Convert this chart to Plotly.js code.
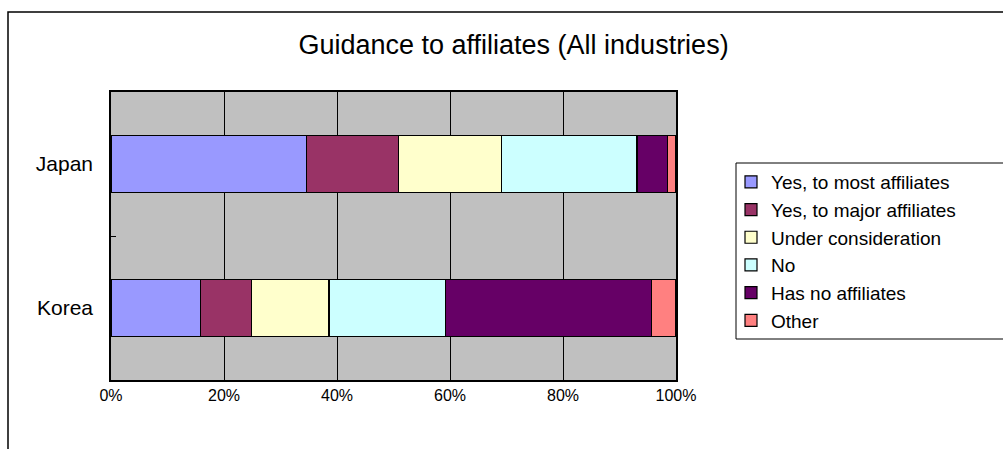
<!DOCTYPE html>
<html>
<head>
<meta charset="utf-8">
<script src="https://cdn.plot.ly/plotly-3.0.1.min.js"></script>
<style>
  body { margin: 0; overflow: hidden; background: #fff; }
  #plotDiv { width: 1003px; height: 449px; }
</style>
</head>
<body>
<div id="plotDiv"></div>
<script>
var countries = ['Japan', 'Korea'];

var yesMost = [34.6, 15.8];
var yesMajor = [16.3, 9.0];
var underConsideration = [18.2, 13.8];
var no = [24.0, 20.6];
var noAffiliates = [5.4, 36.5];
var other = [1.5, 4.3];

var seriesNames = ['Yes, to most affiliates', 'Yes, to major affiliates', 'Under consideration',
                   'No', 'Has no affiliates', 'Other'];
var seriesValues = [yesMost, yesMajor, underConsideration, no, noAffiliates, other];
var seriesColors = ['#9999FF', '#993366', '#FFFFCC', '#CCFFFF', '#660066', '#FF8080'];

var xTicks = [0, 20, 40, 60, 80, 100];

var plotData = [];
for (var i = 0; i < seriesNames.length; i++) {
  plotData.push({
    type: 'bar',
    orientation: 'h',
    name: seriesNames[i],
    y: countries,
    x: seriesValues[i],
    marker: {color: seriesColors[i], line: {color: '#000000', width: 1.2}},
    hoverinfo: 'name+x'
  });
}

var font = 'Liberation Sans, Arial, sans-serif';

// plot area is 565 x 288 px, starting at (111, 92)
function px(x) { return (x - 111) / 565; }
function py(y) { return (380 - y) / 288; }

var layout = {
  width: 1003,
  height: 449,
  barmode: 'stack',
  bargap: 0.6,
  paper_bgcolor: '#ffffff',
  plot_bgcolor: '#C0C0C0',
  margin: {l: 111, r: 327, t: 92, b: 69, autoexpand: false},
  font: {family: font, color: '#000000', size: 16},
  title: {
    text: 'Guidance to affiliates (All industries)',
    font: {family: font, size: 27, color: '#000000'},
    xref: 'container', x: 0.512, xanchor: 'center',
    yref: 'container', y: 0.9, yanchor: 'middle'
  },
  xaxis: {
    range: [0, 100],
    tickvals: xTicks,
    ticktext: xTicks.map(function (v) { return v + '%'; }),
    showgrid: true,
    gridcolor: '#000000',
    gridwidth: 1,
    showline: true,
    linecolor: '#000000',
    linewidth: 1.5,
    mirror: true,
    ticks: '',
    zeroline: false,
    tickfont: {size: 16},
    ticklabelstandoff: 0
  },
  yaxis: {
    autorange: 'reversed',
    showgrid: false,
    showline: true,
    linecolor: '#000000',
    linewidth: 1.5,
    mirror: true,
    ticks: 'inside',
    tickson: 'boundaries',
    ticklen: 5,
    tickcolor: '#000000',
    tickfont: {size: 21},
    ticklabelstandoff: 12
  },
  legend: {
    x: px(731), xanchor: 'left',
    y: py(163), yanchor: 'top',
    borderwidth: 0,
    bgcolor: 'rgba(0,0,0,0)',
    font: {size: 19},
    traceorder: 'normal'
  },
  shapes: [{
    // outer chart border, runs off the right and bottom edges
    type: 'rect', xref: 'paper', yref: 'paper',
    x0: px(8), x1: 2,
    y0: -1, y1: py(12),
    line: {color: '#000000', width: 1.5},
    layer: 'below'
  }, {
    // legend box, cut off at the right edge
    type: 'rect', xref: 'paper', yref: 'paper',
    x0: px(736), x1: px(1020),
    y0: py(339), y1: py(163),
    fillcolor: '#ffffff',
    line: {color: '#000000', width: 1},
    layer: 'below'
  }]
};

Plotly.newPlot('plotDiv', plotData, layout, {displayModeBar: false});
</script>
</body>
</html>
